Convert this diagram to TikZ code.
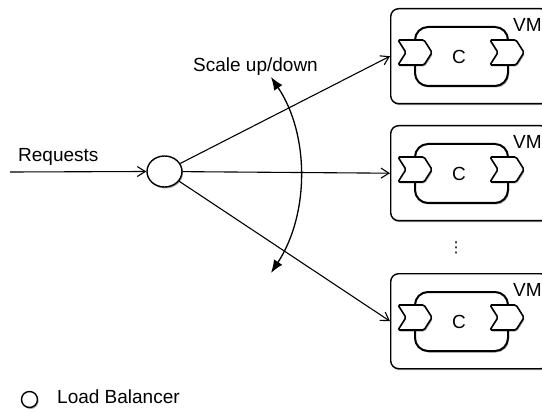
\documentclass[tikz,border=0pt]{standalone}
\usepackage{fontspec}
\setmainfont{Liberation Sans}
\newfontfamily\dvfont{DejaVu Sans}
\usetikzlibrary{arrows.meta,shapes.geometric,shapes.symbols,shadows}
\tikzset{
  shd/.style={drop shadow={shadow xshift=1pt,shadow yshift=-1.5pt,opacity=0.35,fill=black}},
  vmbox/.style={draw,line width=1.4pt,rounded corners=8pt,fill=white,shd,minimum width=158pt,minimum height=95pt,anchor=north west,inner sep=0pt},
  compbox/.style={draw,line width=2pt,rounded corners=13pt,fill=white,shd,minimum width=93pt,minimum height=59pt,inner sep=0pt},
  port/.style={draw,line width=1.6pt,fill=white,shd,signal,signal to=east,signal from=west,signal pointer angle=115,minimum width=34pt,minimum height=25pt,inner sep=0pt,rounded corners=1.5pt},
  lbshape/.style={draw,line width=1.4pt,fill=white,shd,ellipse,inner sep=0pt},
  arr/.style={line width=1.1pt,-{Straight Barb[length=8pt,width=10pt]}},
  darr/.style={line width=1.3pt,{Latex[length=13pt,width=10pt]}-{Latex[length=13pt,width=10pt]}},
  lbl/.style={font=\fontsize{19}{22}\selectfont,inner sep=0pt},
}
\begin{document}
\begin{tikzpicture}[x=1pt,y=-1pt]
\useasboundingbox (0,0) rectangle (542,412);
\clip (0,0) rectangle (542,412);
% VMs
\foreach \i/\t in {1/8,2/125,3/273}{
  \node[vmbox] (vm\i) at (390,\t) {};
  \node[compbox] (c\i) at (461.5,\t+48.5) {};
  \node[lbl] (ct\i) at (459,\t+49) {C};
  \node[port] (pl\i) at (415,\t+44.5) {};
  \node[port] (pr\i) at (507,\t+44.5) {};
  \node[lbl,anchor=base west] (vml\i) at (513,\t+24) {VM};
}
\node[inner sep=0pt,font=\dvfont\fontsize{15}{15}\selectfont] (dots) at (456,248) {⋮};
% load balancer
\node[lbshape,minimum width=35pt,minimum height=31pt] (lb) at (164.5,171.5) {};
\coordinate (rin) at (10,172);
\draw[arr] (rin) -- (lb.west);
\node[lbl,anchor=base west] (req) at (18,161) {Requests};
\draw[arr] (lb) -- (vm1.west);
\draw[arr] (lb) -- (vm2.west);
\draw[arr] (lb) -- (vm3.west);
% scale arc
\coordinate (sa) at (271,77);
\coordinate (sb) at (271,273);
\draw[darr] (sa) .. controls (309.6,134.4) and (309.6,214) .. (sb);
\node[lbl,anchor=base west] (scale) at (193,72) {Scale up/down};
% legend
\node[lbshape,minimum width=16pt,minimum height=16pt] (leg) at (29.5,399.5) {};
\node[lbl,anchor=base west] (legt) at (57,403) {Load Balancer};
\end{tikzpicture}
\end{document}
